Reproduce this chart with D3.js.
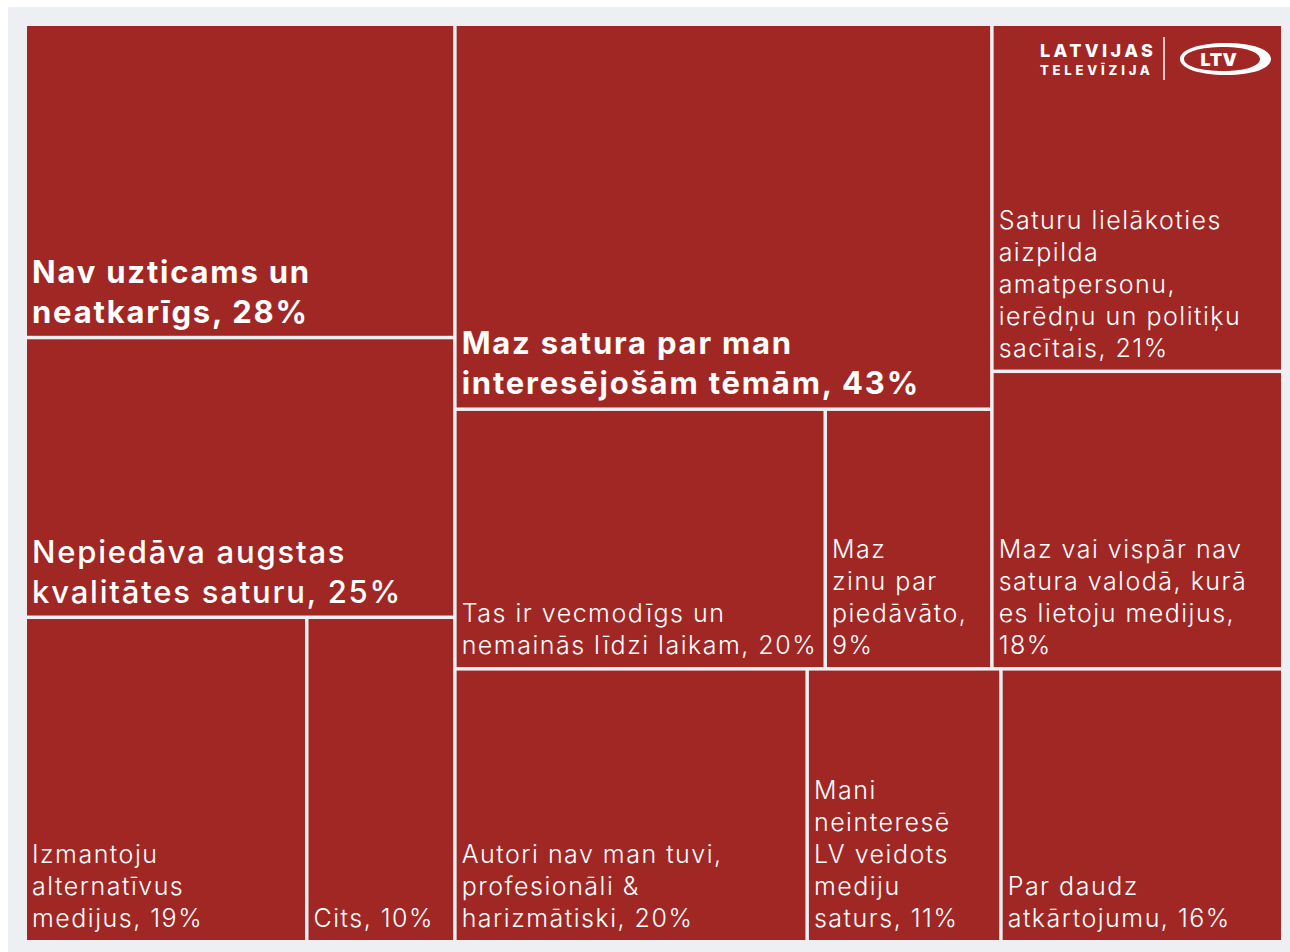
<!DOCTYPE html>
<html>
<head>
<meta charset="utf-8">
<script src="https://cdn.jsdelivr.net/npm/d3@7"></script>
<style>
  body { margin: 0; background: #fff; }
  svg { display: block; }
  text { font-family: Inter, "Open Sans", sans-serif; fill: #fff; }
</style>
</head>
<body>
<svg id="chart"></svg>
<script>
// answers (line breaks as in the original labels)
var labels = [
  ["Nav uzticams un", "neatkarīgs, 28%"],
  ["Nepiedāva augstas", "kvalitātes saturu, 25%"],
  ["Izmantoju", "alternatīvus", "medijus, 19%"],
  ["Cits, 10%"],
  ["Maz satura par man", "interesējošām tēmām, 43%"],
  ["Tas ir vecmodīgs un", "nemainās līdzi laikam, 20%"],
  ["Maz", "zinu par", "piedāvāto,", "9%"],
  ["Saturu lielākoties", "aizpilda", "amatpersonu,", "ierēdņu un politiķu", "sacītais, 21%"],
  ["Maz vai vispār nav", "satura valodā, kurā", "es lietoju medijus,", "18%"],
  ["Autori nav man tuvi,", "profesionāli &", "harizmātiski, 20%"],
  ["Mani", "neinteresē", "LV veidots", "mediju", "saturs, 11%"],
  ["Par daudz", "atkārtojumu, 16%"]
];
var values = [28, 25, 19, 10, 43, 20, 9, 21, 18, 20, 11, 16];

// how the boxes are grouped: dice = side by side, slice = stacked
var groups = ["dice",
  ["slice", 0, 1, ["dice", 2, 3]],
  ["slice",
    ["dice", ["slice", 4, ["dice", 5, 6]], ["slice", 7, 8]],
    ["dice", 9, 10, 11]]
];

var width = 1290, height = 952;
var margin = {top: 26, left: 27, right: 9, bottom: 12};

function toNode(spec){
  if(typeof spec === "number"){
    return {lines: labels[spec], value: values[spec]};
  }
  return {dir: spec[0], children: spec.slice(1).map(toNode)};
}

var root = d3.hierarchy(toNode(groups))
  .sum(d => d.value || 0);

d3.treemap()
  .size([width - margin.left - margin.right, height - margin.top - margin.bottom])
  .paddingInner(3.5)
  .round(false)
  .tile((node, x0, y0, x1, y1) => {
    if(node.data.dir === "slice") d3.treemapSlice(node, x0, y0, x1, y1);
    else d3.treemapDice(node, x0, y0, x1, y1);
  })(root);

var svg = d3.select("#chart")
  .attr("width", width)
  .attr("height", height);

svg.append("rect")
  .attr("x", 8).attr("y", 7)
  .attr("width", width - 8).attr("height", height - 7)
  .attr("fill", "#edeff3");

var g = svg.append("g")
  .attr("transform", `translate(${margin.left},${margin.top})`);

var leaf = g.selectAll("g.cell")
  .data(root.leaves())
  .enter()
  .append("g")
  .classed("cell", true)
  .attr("transform", d => `translate(${d.x0},${d.y0})`);

leaf.append("rect")
  .attr("width", d => d.x1 - d.x0)
  .attr("height", d => d.y1 - d.y0)
  .attr("fill", "#a12725");

function big(d){ return d.value >= 25; }

leaf.append("text")
  .attr("font-size", d => big(d) ? 31 : 25)
  .attr("letter-spacing", d => big(d) ? 1.8 : 1.5)
  .attr("font-weight", d => d.value >= 28 ? 700 : (d.value >= 25 ? 500 : 300))
  .each(function(d){
    var lh = big(d) ? 40 : 32;
    var n = d.data.lines.length;
    var h = d.y1 - d.y0;
    d3.select(this).selectAll("tspan")
      .data(d.data.lines)
      .enter()
      .append("tspan")
      .attr("x", 5)
      .attr("y", (t, i) => h - 13 - (n - 1 - i) * lh)
      .text(t => t);
  });

// logo in the top right box
var logo = svg.append("g").attr("transform", "translate(1040,0)");
logo.append("text")
  .attr("x", 0).attr("y", 57)
  .attr("font-size", 18).attr("font-weight", 800)
  .attr("letter-spacing", 3.4)
  .text("LATVIJAS");
logo.append("text")
  .attr("x", 0).attr("y", 75)
  .attr("font-size", 13).attr("font-weight", 800)
  .attr("letter-spacing", 3.8)
  .text("TELEVĪZIJA");
logo.append("line")
  .attr("x1", 124).attr("x2", 124)
  .attr("y1", 37).attr("y2", 80)
  .attr("stroke", "#e9c9c8").attr("stroke-width", 2);
// swoosh oval
logo.append("path")
  .attr("d", "M186,43 C214,43 231,50 231,59 C231,68 214,75 186,75 C158,75 140,68 140,59 C140,50 158,43 186,43 Z " +
             "M184,47 C160,47 144,52 144,59 C144,66 160,71 184,71 C205,71 220,66 220,59 C220,52 205,47 184,47 Z")
  .attr("fill", "#fff")
  .attr("fill-rule", "evenodd");
logo.append("text")
  .attr("x", 179).attr("y", 66)
  .attr("text-anchor", "middle")
  .attr("font-size", 18).attr("font-weight", 900)
  .attr("letter-spacing", 0.5)
  .text("LTV");
</script>
</body>
</html>
